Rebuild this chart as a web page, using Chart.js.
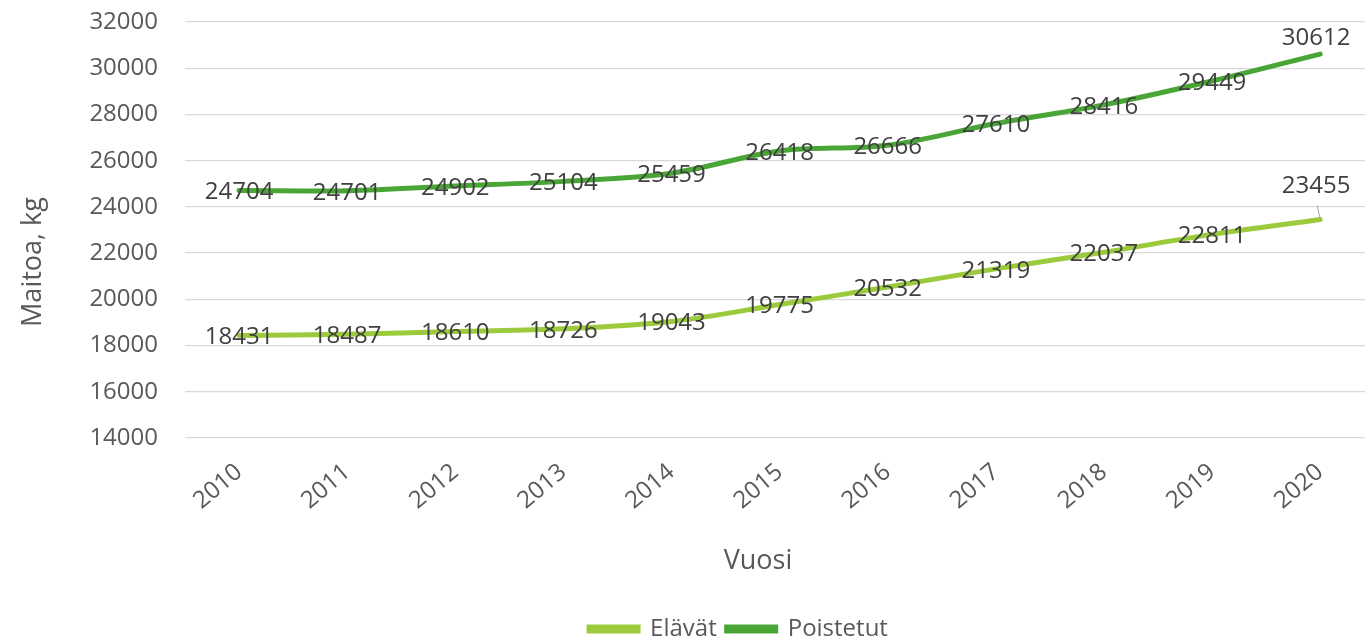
<!DOCTYPE html>
<html>
<head>
<meta charset="utf-8">
<script src="https://cdn.jsdelivr.net/npm/chart.js@4.4.1/dist/chart.umd.min.js"></script>
<style>
  html, body { margin: 0; padding: 0; background: #fff; }
  #wrap { width: 1365px; height: 642px; position: relative; }
</style>
</head>
<body>
<div id="wrap"><canvas id="chart"></canvas></div>
<script>
'use strict';

// ── Data ─────────────────────────────────────────────────────────────────────

const YEARS      = [2010, 2011, 2012, 2013, 2014, 2015, 2016, 2017, 2018, 2019, 2020];
const ELAVAT     = [18431, 18487, 18610, 18726, 19043, 19775, 20532, 21319, 22037, 22811, 23455];
const POISTETUT  = [24704, 24701, 24902, 25104, 25459, 26418, 26666, 27610, 28416, 29449, 30612];
const SERIES     = ['Elävät', 'Poistetut'];
const Y_TITLE    = 'Maitoa, kg';
const X_TITLE    = 'Vuosi';

const FONT       = '"Open Sans", "DejaVu Sans", sans-serif';
const AXIS_GREY  = '#595959';
const LABEL_GREY = '#404040';
const GRID_GREY  = '#d9d9d9';
const C_ELAVAT   = '#9bcb3c';
const C_POIST    = '#4aa537';

// ── Data labels + axis titles ────────────────────────────────────────────────

const pointLabels = {
    id: 'pointLabels',
    afterLayout(chart) {
        // Excel puts the legend a bit right of centre and lower
        const lg = chart.legend;
        if (!lg) return;
        lg.left += 56; lg.right += 56;
        lg.top  += 9;  lg.bottom += 9;
    },
    afterDatasetsDraw(chart) {
        const ctx = chart.ctx;
        ctx.save();
        ctx.font = `24px ${FONT}`;
        ctx.fillStyle = LABEL_GREY;
        ctx.textAlign = 'center';
        ctx.textBaseline = 'middle';
        chart.data.datasets.forEach((ds, di) => {
            const meta = chart.getDatasetMeta(di);
            meta.data.forEach((pt, i) => {
                let dx = 0, dy = 2;
                const last = i === meta.data.length - 1;
                if (last && di === 1) { dx = -4; dy = -16; }
                if (last && di === 0) {
                    dx = -4; dy = -33;
                    // leader line
                    ctx.strokeStyle = '#a6a6a6';
                    ctx.lineWidth = 1;
                    ctx.beginPath();
                    ctx.moveTo(pt.x - 3, pt.y - 14);
                    ctx.lineTo(pt.x, pt.y - 1);
                    ctx.stroke();
                }
                ctx.fillText(String(ds.data[i].y), pt.x + dx, pt.y + dy);
            });
        });

        // axis titles, placed like the original
        ctx.font = `27px ${FONT}`;
        ctx.fillStyle = AXIS_GREY;
        ctx.fillText(X_TITLE, 758, 561);
        ctx.translate(33, 262);
        ctx.rotate(-Math.PI / 2);
        ctx.fillText(Y_TITLE, 0, 0);
        ctx.restore();
    }
};

// ── Chart ─────────────────────────────────────────────────────────────────────

const toPoints = vals => YEARS.map((y, i) => ({ x: y, y: vals[i] }));

new Chart(document.getElementById('chart'), {
    type: 'line',
    data: {
        datasets: [
            { label: SERIES[0], data: toPoints(ELAVAT),    borderColor: C_ELAVAT, backgroundColor: C_ELAVAT },
            { label: SERIES[1], data: toPoints(POISTETUT), borderColor: C_POIST,  backgroundColor: C_POIST  },
        ]
    },
    options: {
        responsive: true,
        maintainAspectRatio: false,
        animation: false,
        layout: { padding: 0 },
        elements: {
            line:  { borderWidth: 5, tension: 0.35, borderCapStyle: 'round' },
            point: { radius: 0, hoverRadius: 0 },
        },
        plugins: {
            tooltip: { enabled: false },
            legend: {
                position: 'bottom',
                labels: {
                    font: { family: FONT, size: 24 },
                    color: AXIS_GREY,
                    boxWidth: 49,
                    boxHeight: 4,
                    padding: 10,
                },
            },
        },
        scales: {
            x: {
                type: 'linear',
                min: 2009.5,
                max: 2020.415,
                grid: { display: false },
                border: { display: false },
                afterBuildTicks: s => { s.ticks = YEARS.map(v => ({ value: v })); },
                afterFit: s => { s.height = 160; },
                ticks: {
                    minRotation: 40, maxRotation: 40,
                    padding: 12,
                    color: AXIS_GREY,
                    font: { family: FONT, size: 24 },
                    callback: v => String(v),
                },
            },
            y: {
                min: 14000,
                max: 32000,
                afterFit: s => { s.width = 185; s.paddingTop = 22; s.paddingBottom = 0; },
                grid: { color: GRID_GREY, lineWidth: 1.3, drawTicks: false },
                border: { display: false },
                ticks: {
                    stepSize: 2000,
                    padding: 27,
                    color: AXIS_GREY,
                    font: { family: FONT, size: 24 },
                    callback: v => String(v),
                },
            },
        },
    },
    plugins: [pointLabels],
});
</script>
</body>
</html>
